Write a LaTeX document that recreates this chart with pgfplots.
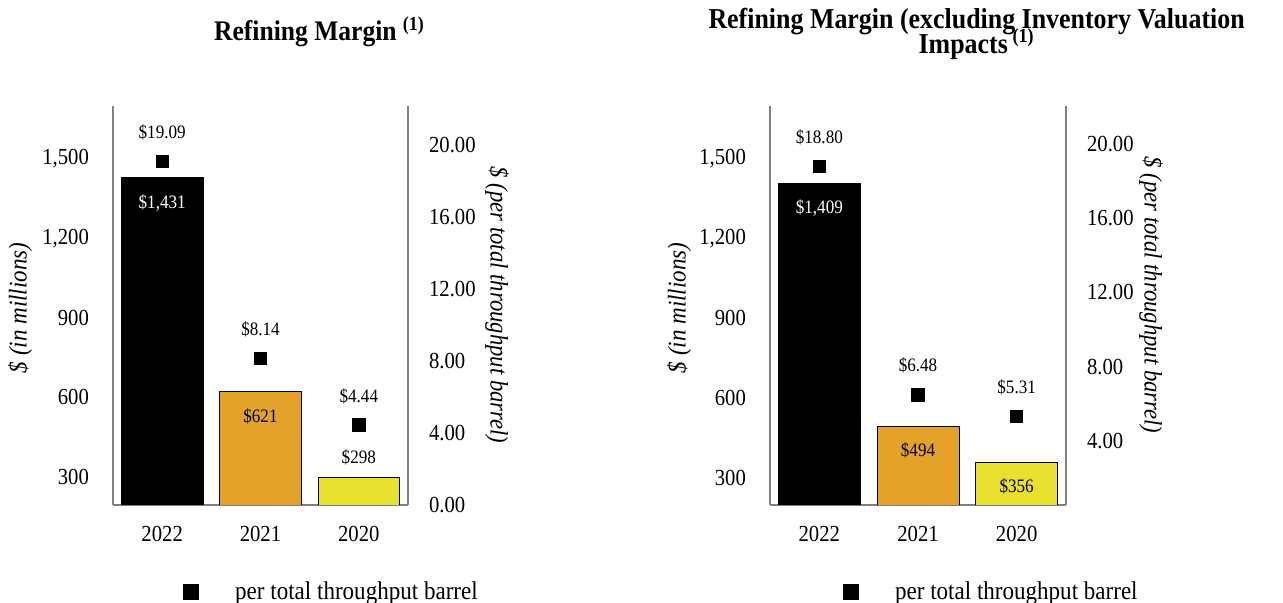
\documentclass[border=0pt]{standalone}
\usepackage{fontspec}
\setmainfont[FakeStretch=0.9]{Liberation Serif}
\usepackage{pgfplots}
\pgfplotsset{compat=1.18}
\definecolor{axgray}{RGB}{128,128,128}
\definecolor{barorange}{RGB}{227,163,43}
\definecolor{baryellow}{RGB}{232,223,46}
\pgfkeys{/pgf/number format/assume math mode=true}
\pgfplotsset{
  base/.style={scale only axis, width=147.5pt, height=199.5pt, xmin=-0.5, xmax=2.5,
    axis line style={draw=axgray, line width=1pt, -}, major tick length=0pt,
    tick label style={font=\fontsize{11.5}{13}\selectfont},
    xtick={0,1,2}, xticklabels={2022,2021,2020}, xticklabel style={yshift=-7pt},
    anchor=south west},
  leftax/.style={base, axis y line*=left, axis x line*=bottom,
    ytick={300,600,900,1200,1500},
    yticklabel style={/pgf/number format/1000 sep={,}, xshift=-8.5pt},
    ylabel={\$ (in millions)},
    ylabel style={anchor=center, font=\itshape\fontsize{12.8}{15}\selectfont}},
  rightax/.style={base, axis y line*=right, axis x line=none,
    ytick={0,4,8,12,16,20},
    yticklabel style={/pgf/number format/.cd, fixed, fixed zerofill, precision=2, /tikz/.cd, xshift=7pt},
    ylabel={\$ (per total throughput barrel)},
    ylabel style={anchor=center, rotate=180, font=\itshape\fontsize{12.6}{15}\selectfont},
    legend image code/.code={\draw[##1, mark size=3.7pt] plot coordinates {(0pt,0pt)}; \path (-3.7pt,0pt) (20pt,0pt);},
    legend style={anchor=west, draw=none, fill=none, inner sep=0pt, font=\fontsize{12.8}{14}\selectfont}},
  barlab/.style={nodes near coords={\$\pgfmathprintnumber[1000 sep={,}]{\pgfplotspointmeta}},
    every node near coord/.append style={anchor=center, yshift=#1, font=\fontsize{9.5}{11}\selectfont}},
  mk/.style={only marks, mark=square*, mark size=3.1pt, black, point meta=y,
    nodes near coords={\$\pgfmathprintnumber[fixed,fixed zerofill,precision=2]{\pgfplotspointmeta}},
    every node near coord/.append style={anchor=center, yshift=14.5pt, font=\fontsize{9.5}{11}\selectfont}},
}
\begin{document}
\begin{tikzpicture}
\useasboundingbox (0,0) rectangle (641.5pt,301.5pt);
% ---------- Left chart ----------
\begin{axis}[leftax, at={(56.5pt,49pt)}, ymin=194, ymax=1700,
  ylabel style={at={(rel axis cs:-0.315,0.494)}},
  title={Refining Margin \textsuperscript{(1)}},
  title style={at={(rel axis cs:0.70,1.163)}, anchor=base, yshift=-6pt, font=\bfseries\fontsize{14.2}{15}\selectfont}]
\addplot[ybar, bar width=0.83, bar shift=0pt, fill=black, draw=black, point meta=y,
  barlab=-13pt, every node near coord/.append style={text=white}] coordinates {(0,1431)};
\addplot[ybar, bar width=0.83, bar shift=0pt, fill=barorange, draw=black, point meta=y,
  barlab=-12pt] coordinates {(1,621)};
\addplot[ybar, bar width=0.83, bar shift=0pt, fill=baryellow, draw=black, point meta=y,
  barlab=10pt] coordinates {(2,298)};
\end{axis}
\begin{axis}[rightax, at={(56.5pt,49pt)}, ymin=0, ymax=22.17,
  ylabel style={at={(rel axis cs:1.302,0.501)}},
  legend style={at={(rel axis cs:0.236,-0.218)}}]
\addplot[mk] coordinates {(0,19.09) (1,8.14) (2,4.44)};
\addlegendentry{per total throughput barrel}
\end{axis}
% ---------- Right chart ----------
\begin{axis}[leftax, at={(385pt,49pt)}, width=148pt, ymin=197, ymax=1699,
  ylabel style={at={(rel axis cs:-0.307,0.494)}},
  title={Refining Margin (excluding Inventory Valuation\\[-4pt]Impacts\,\textsuperscript{(1)}},
  title style={at={(rel axis cs:0.698,1.181)}, anchor=center, yshift=-6pt, align=center,
    font=\bfseries\fontsize{14.4}{15}\selectfont}]
\addplot[ybar, bar width=0.83, bar shift=0pt, fill=black, draw=black, point meta=y,
  barlab=-12.5pt, every node near coord/.append style={text=white}] coordinates {(0,1409)};
\addplot[ybar, bar width=0.83, bar shift=0pt, fill=barorange, draw=black, point meta=y,
  barlab=-12pt] coordinates {(1,494)};
\addplot[ybar, bar width=0.83, bar shift=0pt, fill=baryellow, draw=black, point meta=y,
  barlab=-12pt] coordinates {(2,356)};
\end{axis}
\begin{axis}[rightax, at={(385pt,49pt)}, width=148pt, ymin=0.54, ymax=22.05,
  ytick={4,8,12,16,20},
  ylabel style={at={(rel axis cs:1.287,0.526)}},
  legend style={at={(rel axis cs:0.245,-0.218)}}]
\addplot[mk] coordinates {(0,18.80) (1,6.48) (2,5.31)};
\addlegendentry{per total throughput barrel}
\end{axis}
\end{tikzpicture}
\end{document}
